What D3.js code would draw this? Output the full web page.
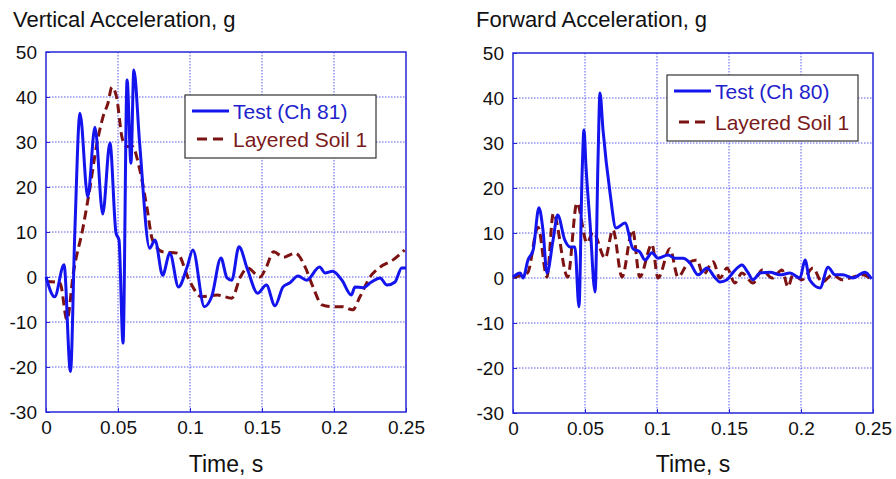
<!DOCTYPE html>
<html lang="en">
<head>
<meta charset="utf-8">
<title>Vertical and Forward Acceleration</title>
<script src="https://d3js.org/d3.v7.min.js"></script>
<style>
  body { margin: 0; background: #fff; font-family: Arial, "Liberation Sans", sans-serif; }
  svg text { fill: #111; }
</style>
</head>
<body>
<script>
// x ticks (s) and y ticks (g), shared by both panels
var timeTicks = [0, 0.05, 0.1, 0.15, 0.2, 0.25];
var accelTicks = [-30, -20, -10, 0, 10, 20, 30, 40, 50];

// Vertical acceleration, test (Ch 81)
var vertTestTime = [0, 0.006, 0.0125, 0.017, 0.020, 0.0236, 0.029, 0.034, 0.0394, 0.0444, 0.0486, 0.0507, 0.0535, 0.0563, 0.059, 0.061, 0.065, 0.072, 0.0757, 0.081, 0.086, 0.092, 0.098, 0.102, 0.110, 0.115, 0.1215, 0.1257, 0.129, 0.134, 0.140, 0.147, 0.153, 0.159, 0.1646, 0.1694, 0.175, 0.181, 0.190, 0.1938, 0.199, 0.2055, 0.212, 0.2146, 0.220, 0.226, 0.232, 0.2368, 0.2424, 0.247, 0.25];
var vertTest = [0, -4.4, 2.7, -21, 9.8, 36.4, 17.8, 33.3, 14, 29.8, 9.8, 8.2, -14.7, 43.8, 25.3, 46, 29.8, 6.4, 8.2, 0.4, 5.3, -2.2, 2.2, 6, -6.6, -4.4, 4.2, -0.2, -0.7, 6.7, 1.6, -3.6, -1.8, -6.4, -2.2, -1.3, 0.2, -0.7, 2.2, 0.9, 1.3, -0.7, -4, -2.2, -2.4, -1.1, -0.2, -1.8, -1.1, 2, 2];

// Vertical acceleration, Layered Soil 1 model
var vertModelTime = [0, 0.0097, 0.0146, 0.019, 0.0257, 0.0306, 0.035, 0.0396, 0.043, 0.0458, 0.049, 0.0528, 0.056, 0.06, 0.065, 0.07, 0.074, 0.081, 0.091, 0.1, 0.108, 0.119, 0.129, 0.135, 0.140, 0.1486, 0.153, 0.158, 0.165, 0.173, 0.18, 0.1854, 0.1917, 0.1986, 0.206, 0.213, 0.218, 0.225, 0.232, 0.241, 0.249];
var vertModel = [-1, -1.3, -9.5, 0.9, 11, 20, 29, 35.6, 38.6, 42.2, 40, 31, 29, 29, 24, 15.6, 8.2, 5.6, 5.3, -1.1, -4.4, -4, -4.7, 0, 2, 0, 2.2, 5.6, 4.4, 5.3, 2.2, -2.2, -6.2, -6.6, -6.6, -7.3, -4.4, 0, 2.2, 3.8, 6];

// Forward acceleration, test (Ch 80)
var fwdTestTime = [0, 0.005, 0.007, 0.0104, 0.014, 0.018, 0.0208, 0.0236, 0.0278, 0.031, 0.036, 0.0396, 0.043, 0.0458, 0.048, 0.0493, 0.0507, 0.0535, 0.057, 0.059, 0.0604, 0.0625, 0.0674, 0.0715, 0.0778, 0.0833, 0.088, 0.0917, 0.0965, 0.1007, 0.1076, 0.1125, 0.118, 0.123, 0.1285, 0.1347, 0.140, 0.1437, 0.1486, 0.153, 0.159, 0.163, 0.1667, 0.1715, 0.1785, 0.1854, 0.1924, 0.1993, 0.2028, 0.206, 0.2132, 0.2188, 0.2236, 0.229, 0.236, 0.2444, 0.249];
var fwdTest = [0.2, 1.1, 0, 4, 6.2, 15.6, 10.7, 1.1, 8.4, 14, 8.4, 6.9, 6.9, -6.4, 23.3, 32.9, 24.7, 12.2, -3.1, 25.6, 41.1, 32.9, 18.9, 11.1, 12.2, 6.5, 5.8, 4, 5.6, 4.4, 5.1, 4.4, 4.4, 3.3, 0.7, 2.2, 0.2, -0.9, -0.4, 1.3, 2.9, 1.3, -0.4, 1.1, 1.3, 0.7, 1.1, 0, 4, -0.4, -2.2, 2.4, 0.7, 0.7, 0, 1.3, -0.2];

// Forward acceleration, Layered Soil 1 model
var fwdModelTime = [0, 0.01, 0.0174, 0.0236, 0.028, 0.038, 0.0444, 0.0514, 0.0556, 0.064, 0.0694, 0.0757, 0.083, 0.088, 0.0965, 0.1007, 0.109, 0.1146, 0.1215, 0.1278, 0.132, 0.139, 0.1437, 0.1486, 0.154, 0.159, 0.1667, 0.173, 0.18, 0.1868, 0.191, 0.1944, 0.2007, 0.2083, 0.2146, 0.222, 0.2285, 0.236, 0.243, 0.249];
var fwdModel = [0.2, 1.1, 11.3, 0.2, 14.4, 0.2, 16.7, 7.8, 10.2, 4.4, 10.7, 0.2, 10.7, 0.2, 7.5, 0, 6.5, 0.2, 3.3, 4, 0.7, 3.6, 0, 2.2, -1.1, 1.1, -1.1, 1.8, 0, 1.8, -2, 0.7, -0.4, 2.2, -0.9, 0.7, -0.4, 0.2, 0.7, -0.4];

var panels = [
  { title: "Vertical Acceleration, g", titleX: 13,
    x0: 46, x1: 406, y0: 52, y1: 412,
    testName: "Test (Ch 81)", testT: vertTestTime, testV: vertTest,
    modelT: vertModelTime, modelV: vertModel,
    legend: { x: 185, y: 95, w: 191, h: 63 } },
  { title: "Forward Acceleration, g", titleX: 476,
    x0: 513, x1: 873, y0: 53, y1: 413,
    testName: "Test (Ch 80)", testT: fwdTestTime, testV: fwdTest,
    modelT: fwdModelTime, modelV: fwdModel,
    legend: { x: 667, y: 75, w: 191, h: 66 } }
];

var W = 896, H = 479;
var axisColor = "#2626d9";
var testColor = "#1414ee";
var modelColor = "#7d1212";

var svg = d3.select("body").append("svg")
  .attr("width", W).attr("height", H);

panels.forEach(function(p) {
  var x = d3.scaleLinear().domain([0, 0.25]).range([p.x0, p.x1]);
  var y = d3.scaleLinear().domain([-30, 50]).range([p.y1, p.y0]);
  var g = svg.append("g");

  // grid
  g.selectAll(".gx").data(timeTicks.slice(1, -1)).enter().append("line")
    .attr("x1", function(d) { return x(d); }).attr("x2", function(d) { return x(d); })
    .attr("y1", p.y0).attr("y2", p.y1)
    .attr("stroke", "#5a5af0").attr("stroke-width", 1).attr("stroke-dasharray", "1.5,1.5");
  g.selectAll(".gy").data(accelTicks.slice(1, -1)).enter().append("line")
    .attr("y1", function(d) { return y(d); }).attr("y2", function(d) { return y(d); })
    .attr("x1", p.x0).attr("x2", p.x1)
    .attr("stroke", "#5a5af0").attr("stroke-width", 1).attr("stroke-dasharray", "1.5,1.5");

  // axes (ticks point inward, like the original); plain hyphen for negatives
  var xAxis = d3.axisBottom(x).tickValues(timeTicks).tickSize(-4).tickPadding(6)
    .tickFormat(function(d) { return String(+d.toFixed(2)); });
  var yAxis = d3.axisLeft(y).tickValues(accelTicks).tickSize(-4).tickPadding(9)
    .tickFormat(function(d) { return String(d); });

  var gx = g.append("g").attr("transform", "translate(0," + p.y1 + ")").call(xAxis);
  var gy = g.append("g").attr("transform", "translate(" + p.x0 + ",0)").call(yAxis);
  [gx, gy].forEach(function(a) {
    a.select(".domain").remove();
    a.selectAll(".tick line").attr("stroke", axisColor);
    a.selectAll("text").attr("fill", "#111")
      .style("font-size", "19px").style("font-family", "Arial, 'Liberation Sans', sans-serif");
  });
  gx.selectAll("text").attr("dy", "0.85em");

  // box
  g.append("rect")
    .attr("x", p.x0).attr("y", p.y0)
    .attr("width", p.x1 - p.x0).attr("height", p.y1 - p.y0)
    .attr("fill", "none").attr("stroke", axisColor).attr("stroke-width", 1.5);

  var line = d3.line()
    .x(function(d) { return x(d[0]); })
    .y(function(d) { return y(d[1]); })
    .curve(d3.curveMonotoneX);

  var modelData = d3.zip(p.modelT, p.modelV);
  var testData = d3.zip(p.testT, p.testV);

  g.append("path").datum(modelData)
    .attr("d", line).attr("fill", "none")
    .attr("stroke", modelColor).attr("stroke-width", 3)
    .attr("stroke-dasharray", "9,5");
  g.append("path").datum(testData)
    .attr("d", line).attr("fill", "none")
    .attr("stroke", testColor).attr("stroke-width", 3)
    .attr("stroke-linejoin", "round");

  // titles
  svg.append("text").attr("x", p.titleX).attr("y", 27)
    .style("font-size", "22px").text(p.title);
  svg.append("text").attr("x", (p.x0 + p.x1) / 2).attr("y", 472)
    .attr("text-anchor", "middle")
    .style("font-size", "23px").text("Time, s");

  // legend
  var L = p.legend;
  var lg = svg.append("g").attr("transform", "translate(" + L.x + "," + L.y + ")");
  lg.append("rect").attr("width", L.w).attr("height", L.h)
    .attr("fill", "#fff").attr("stroke", "#333").attr("stroke-width", 1.2);
  var r1 = 16, r2 = L.h - 20;
  lg.append("line").attr("x1", 7).attr("x2", 44).attr("y1", r1).attr("y2", r1)
    .attr("stroke", testColor).attr("stroke-width", 3);
  lg.append("line").attr("x1", 12).attr("x2", 42).attr("y1", r2 + 1).attr("y2", r2 + 1)
    .attr("stroke", modelColor).attr("stroke-width", 3).attr("stroke-dasharray", "10,6");
  lg.append("text").attr("x", 48).attr("y", r1 + 8)
    .style("font-size", "21px").style("fill", "#2222cc").text(p.testName);
  lg.append("text").attr("x", 48).attr("y", r2 + 9)
    .style("font-size", "21px").style("fill", "#7a1a1a").text("Layered Soil 1");
});
</script>
</body>
</html>
